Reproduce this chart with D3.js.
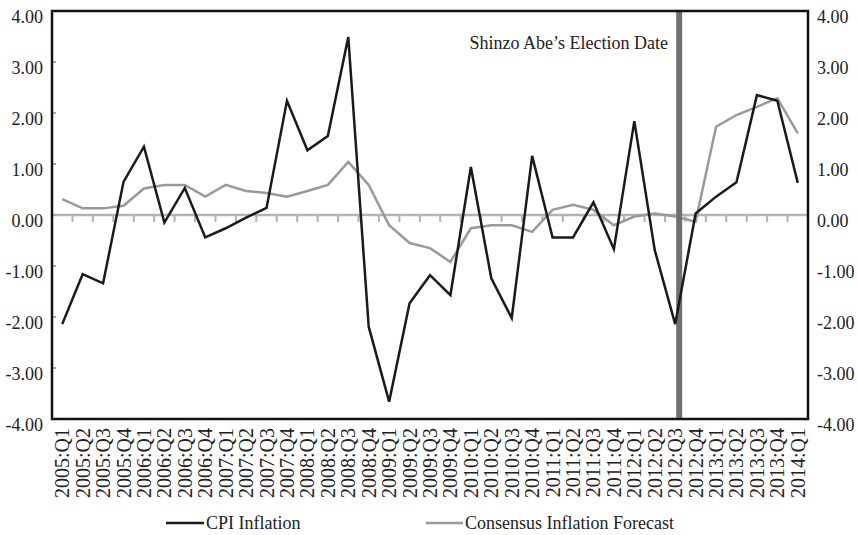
<!DOCTYPE html>
<html>
<head>
<meta charset="utf-8">
<script src="https://cdn.jsdelivr.net/npm/d3@7"></script>
<style>
  body { margin: 0; background: #fff; }
  svg { display: block; }
  text { font-family: "Liberation Serif", "DejaVu Serif", serif; fill: #222; }
</style>
</head>
<body>
<svg id="chart"></svg>
<script>
// quarters 2005:Q1 .. 2014:Q1
const quarters = [
  "2005:Q1","2005:Q2","2005:Q3","2005:Q4",
  "2006:Q1","2006:Q2","2006:Q3","2006:Q4",
  "2007:Q1","2007:Q2","2007:Q3","2007:Q4",
  "2008:Q1","2008:Q2","2008:Q3","2008:Q4",
  "2009:Q1","2009:Q2","2009:Q3","2009:Q4",
  "2010:Q1","2010:Q2","2010:Q3","2010:Q4",
  "2011:Q1","2011:Q2","2011:Q3","2011:Q4",
  "2012:Q1","2012:Q2","2012:Q3","2012:Q4",
  "2013:Q1","2013:Q2","2013:Q3","2013:Q4",
  "2014:Q1"
];

const cpiInflation = [
  -2.14, -1.16, -1.34, 0.65,
  1.34, -0.15, 0.53, -0.44,
  -0.26, -0.05, 0.14, 2.24,
  1.27, 1.55, 3.49, -2.19,
  -3.66, -1.73, -1.18, -1.57,
  0.94, -1.24, -2.02, 1.16,
  -0.44, -0.44, 0.25, -0.67,
  1.84, -0.69, -2.14, 0.03,
  0.36, 0.64, 2.35, 2.24,
  0.63
];

const consensusForecast = [
  0.31, 0.13, 0.13, 0.18,
  0.52, 0.59, 0.59, 0.36,
  0.59, 0.47, 0.43, 0.36,
  0.47, 0.59, 1.04, 0.59,
  -0.20, -0.55, -0.65, -0.92,
  -0.26, -0.20, -0.20, -0.33,
  0.10, 0.20, 0.10, -0.20,
  -0.03, 0.03, -0.03, -0.13,
  1.73, 1.96, 2.12, 2.29,
  1.60
];

const yTicks = [-4, -3, -2, -1, 0, 1, 2, 3, 4];
const electionQuarter = "2012:Q3";
const annotation = "Shinzo Abe\u2019s Election Date";
const legendLabels = ["CPI Inflation", "Consensus Inflation Forecast"];

const width = 858;
const height = 535;
const plotLeft = 52, plotRight = 808, plotTop = 11, plotBottom = 419;

const svg = d3.select("#chart")
  .attr("width", width)
  .attr("height", height);

const x = d3.scaleBand()
  .domain(quarters)
  .range([plotLeft, plotRight])
  .padding(0);
const bw = x.bandwidth();
const cx = q => x(q) + bw / 2;

const y = d3.scaleLinear()
  .domain([-4, 4])
  .range([plotBottom, plotTop]);

// zero line with category ticks hanging below
svg.append("line")
  .attr("x1", plotLeft).attr("x2", plotRight)
  .attr("y1", y(0)).attr("y2", y(0))
  .attr("stroke", "#b3b3b3")
  .attr("stroke-width", 2.5);

svg.append("g")
  .selectAll("line")
  .data(quarters.slice(1))
  .enter()
  .append("line")
  .attr("x1", d => x(d)).attr("x2", d => x(d))
  .attr("y1", y(0)).attr("y2", y(0) + 7)
  .attr("stroke", "#b3b3b3")
  .attr("stroke-width", 2);

// small ticks on the left axis
svg.append("g")
  .selectAll("line")
  .data(yTicks)
  .enter()
  .append("line")
  .attr("x1", plotLeft).attr("x2", plotLeft + 4)
  .attr("y1", d => y(d)).attr("y2", d => y(d))
  .attr("stroke", "#aaa")
  .attr("stroke-width", 2);

// y labels, both sides (plain hyphen for negatives)
const fmt = d => d.toFixed(2);
svg.append("g")
  .selectAll("text")
  .data(yTicks)
  .enter()
  .append("text")
  .attr("x", 43)
  .attr("y", d => y(d) + 12)
  .attr("text-anchor", "end")
  .style("font-size", "18px")
  .text(d => fmt(d));

svg.append("g")
  .selectAll("text")
  .data(yTicks)
  .enter()
  .append("text")
  .attr("x", 817)
  .attr("y", d => y(d) + 12)
  .attr("text-anchor", "start")
  .style("font-size", "18px")
  .text(d => fmt(d));

// x labels, rotated
svg.append("g")
  .selectAll("text")
  .data(quarters)
  .enter()
  .append("text")
  .attr("transform", d => `translate(${cx(d) + 7},428) rotate(-90)`)
  .attr("text-anchor", "end")
  .style("font-size", "20px")
  .text(d => d);

// series
const line = d3.line()
  .x((d, i) => cx(quarters[i]))
  .y(d => y(d));

svg.append("path")
  .datum(consensusForecast)
  .attr("fill", "none")
  .attr("stroke", "#999")
  .attr("stroke-width", 2.5)
  .attr("stroke-linejoin", "miter")
  .attr("d", line);

// election marker
const ex = cx(electionQuarter) + 4;
svg.append("line")
  .attr("x1", ex).attr("x2", ex)
  .attr("y1", plotTop).attr("y2", plotBottom)
  .attr("stroke", "#707070")
  .attr("stroke-width", 6);

svg.append("path")
  .datum(cpiInflation)
  .attr("fill", "none")
  .attr("stroke", "#1a1a1a")
  .attr("stroke-width", 2.5)
  .attr("stroke-linejoin", "miter")
  .attr("d", line);

svg.append("text")
  .attr("x", 668)
  .attr("y", 49)
  .attr("text-anchor", "end")
  .style("font-size", "18px")
  .text(annotation);

// plot frame
svg.append("rect")
  .attr("x", plotLeft).attr("y", plotTop)
  .attr("width", plotRight - plotLeft).attr("height", plotBottom - plotTop)
  .attr("fill", "none")
  .attr("stroke", "#111")
  .attr("stroke-width", 2.5);

// legend
const legendItems = [
  { label: legendLabels[0], color: "#1a1a1a", x1: 166, x2: 204 },
  { label: legendLabels[1], color: "#999", x1: 426, x2: 463 }
];
const legend = svg.append("g");
legend.selectAll("line")
  .data(legendItems)
  .enter()
  .append("line")
  .attr("x1", d => d.x1).attr("x2", d => d.x2)
  .attr("y1", 523).attr("y2", 523)
  .attr("stroke", d => d.color)
  .attr("stroke-width", 2.5);
legend.selectAll("text")
  .data(legendItems)
  .enter()
  .append("text")
  .attr("x", d => d.x2 + 2)
  .attr("y", 529)
  .style("font-size", "18px")
  .text(d => d.label);
</script>
</body>
</html>
